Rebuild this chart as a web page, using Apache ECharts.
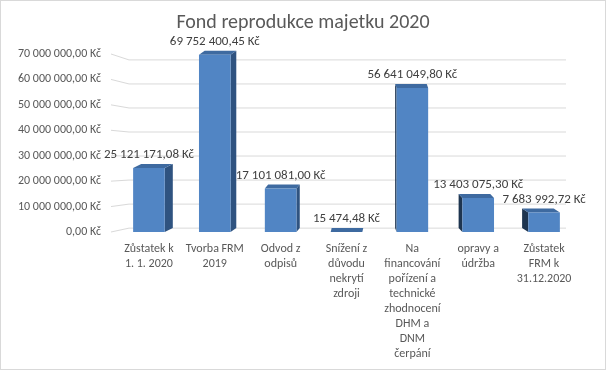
<!DOCTYPE html>
<html><head><meta charset="utf-8">
<script src="https://cdn.jsdelivr.net/npm/echarts@6/dist/echarts.min.js"></script>
<style>html,body{margin:0;padding:0;background:#fff}#c{width:606px;height:370px;box-sizing:border-box;border:1px solid #d9d9d9}</style>
</head><body><div id="c"></div>
<script>
const categories = ["Zůstatek k\n1. 1. 2020","Tvorba FRM\n2019","Odvod z\nodpisů","Snížení z\ndůvodu\nnekrytí\nzdroji","Na\nfinancování\npořízení a\ntechnické\nzhodnocení\nDHM a\nDNM\nčerpání","opravy a\núdržba","Zůstatek\nFRM k\n31.12.2020"];
const values = [25121171.08, 69752400.45, 17101081.00, 15474.48, 56641049.80, 13403075.30, 7683992.72];
const yTicks = [0,10000000,20000000,30000000,40000000,50000000,60000000,70000000];
const FONT = "Carlito, 'Liberation Sans Narrow', 'Liberation Sans', sans-serif";

function fmt(v){
  const parts = Math.abs(v).toFixed(2).split('.');
  const int = parts[0].replace(/\B(?=(\d{3})+(?!\d))/g,' ');
  return int + ',' + parts[1] + ' Kč';
}

const chart = echarts.init(document.getElementById('c'), null, {renderer:'canvas'});
chart.setOption({
  backgroundColor:'#fff',
  animation:false,
  title:{text:'Fond reprodukce majetku 2020',left:'center',top:7,
    textStyle:{fontFamily:FONT,fontSize:20,fontWeight:'normal',color:'#595959'}},
  grid:{left:115,right:28,top:53,bottom:137},
  xAxis:{type:'category',data:categories,
    axisLine:{show:false},axisTick:{show:false},
    axisLabel:{interval:0,color:'#595959',fontFamily:FONT,fontSize:12,lineHeight:15,margin:9}},
  yAxis:{type:'value',min:0,max:70000000,interval:10000000,
    axisLine:{show:false},axisTick:{show:false},
    splitLine:{show:false},
    axisLabel:{color:'#595959',fontFamily:FONT,fontSize:12,margin:15,
      formatter:function(v){return yTicks.indexOf(v)>=0?fmt(v):'';}}},
  series:[{
    type:'custom',
    silent:true,
    data:yTicks.map(t=>[0,t]),
    z:1,
    renderItem:function(params, api){
      const cs = params.coordSys;
      const yf = api.coord([0, api.value(1)])[1];
      const yb = 160.6 + (yf-160.6)*0.945;
      const xl = cs.x - 5, xb = cs.x + 13, xr = 565;
      return {type:'polyline',shape:{points:[[xl,yf],[xb,yb],[xr,yb]]},
        style:{stroke:'#d9d9d9',lineWidth:1,fill:null}};
    }
  },{
    type:'custom',
    z:2,
    data:values.map((v,i)=>[i,v]),
    renderItem:function(params, api){
      const i = api.value(0), v = api.value(1);
      const top = api.coord([i, v]);
      const base = api.coord([i, 0]);
      const bw = api.size([1,0])[0]*0.48;
      const cx = top[0];
      const x0 = cx - bw/2, x1 = cx + bw/2;
      const vp = 372;
      const dx = (vp - cx)*0.036;
      const dy = 4;
      const yt = top[1], yb = base[1];
      const children = [];
      const sx = dx >= 0 ? x1 : x0;
      children.push({type:'polygon',shape:{points:[[sx,yt],[sx,yb],[sx+dx,yb-dy],[sx+dx,yt-dy]]},
        style:{fill: dx>=0 ? '#2f5380' : '#1e3550'}});
      children.push({type:'polygon',shape:{points:[[x0,yt],[x1,yt],[x1+dx,yt-dy],[x0+dx,yt-dy]]},
        style:{fill:'#3e6aa0'}});
      children.push({type:'rect',shape:{x:x0,y:yt,width:bw,height:yb-yt},
        style:{fill:'#5185c4'}});
      children.push({type:'text',style:{text:fmt(v),x:cx,y:yt-13,align:'center',verticalAlign:'middle',
        fill:'#404040',font:'13px '+FONT}});
      return {type:'group',children:children};
    }
  }]
});
</script></body></html>
